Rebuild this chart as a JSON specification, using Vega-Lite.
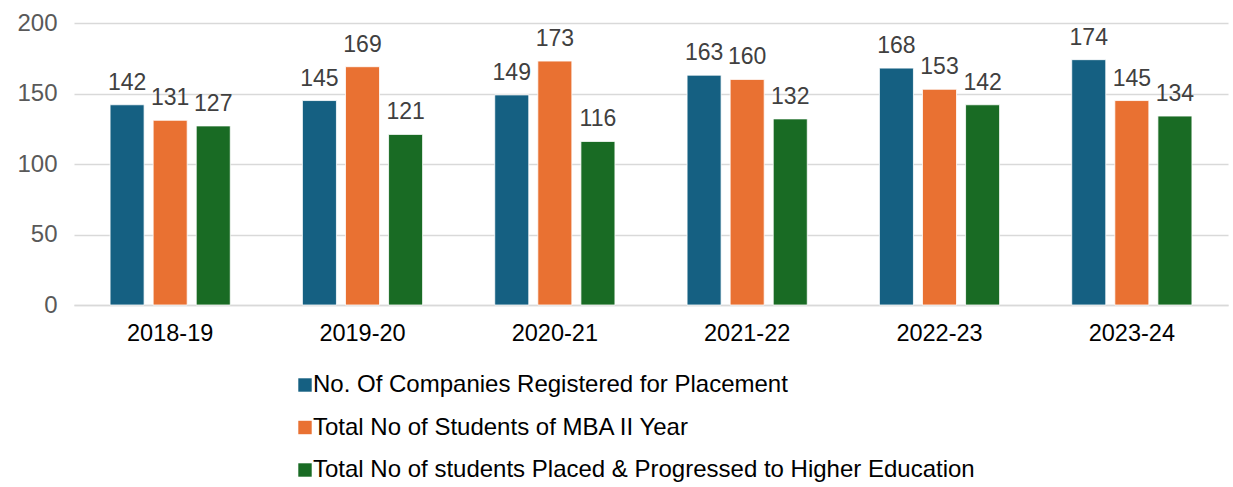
{
  "$schema": "https://vega.github.io/schema/vega-lite/v6.json",
  "width": 1154,
  "height": 282,
  "autosize": {"type": "none"},
  "padding": {"left": 74, "top": 23, "right": 5, "bottom": 182},
  "background": "white",
  "config": {
    "font": "Liberation Sans",
    "view": {"stroke": null}
  },
  "data": {
    "values": [
      {"year": "2018-19", "series": "No. Of Companies Registered for Placement", "value": 142},
      {"year": "2018-19", "series": "Total No of Students of MBA II Year", "value": 131},
      {"year": "2018-19", "series": "Total No of students Placed & Progressed to Higher Education", "value": 127},
      {"year": "2019-20", "series": "No. Of Companies Registered for Placement", "value": 145},
      {"year": "2019-20", "series": "Total No of Students of MBA II Year", "value": 169},
      {"year": "2019-20", "series": "Total No of students Placed & Progressed to Higher Education", "value": 121},
      {"year": "2020-21", "series": "No. Of Companies Registered for Placement", "value": 149},
      {"year": "2020-21", "series": "Total No of Students of MBA II Year", "value": 173},
      {"year": "2020-21", "series": "Total No of students Placed & Progressed to Higher Education", "value": 116},
      {"year": "2021-22", "series": "No. Of Companies Registered for Placement", "value": 163},
      {"year": "2021-22", "series": "Total No of Students of MBA II Year", "value": 160},
      {"year": "2021-22", "series": "Total No of students Placed & Progressed to Higher Education", "value": 132},
      {"year": "2022-23", "series": "No. Of Companies Registered for Placement", "value": 168},
      {"year": "2022-23", "series": "Total No of Students of MBA II Year", "value": 153},
      {"year": "2022-23", "series": "Total No of students Placed & Progressed to Higher Education", "value": 142},
      {"year": "2023-24", "series": "No. Of Companies Registered for Placement", "value": 174},
      {"year": "2023-24", "series": "Total No of Students of MBA II Year", "value": 145},
      {"year": "2023-24", "series": "Total No of students Placed & Progressed to Higher Education", "value": 134}
    ]
  },
  "encoding": {
    "x": {
      "field": "year", "type": "nominal",
      "scale": {"paddingInner": 0.375, "paddingOuter": 0.1875},
      "axis": {
        "title": null, "labelAngle": 0, "labelFontSize": 23.5, "labelColor": "#000000",
        "ticks": false, "domainColor": "#d9d9d9", "domainWidth": 1.5, "labelPadding": 16, "grid": false
      }
    },
    "xOffset": {
      "field": "series", "type": "nominal",
      "sort": ["No. Of Companies Registered for Placement", "Total No of Students of MBA II Year", "Total No of students Placed & Progressed to Higher Education"],
      "scale": {"paddingInner": 0.21, "paddingOuter": 0}
    },
    "y": {
      "field": "value", "type": "quantitative",
      "scale": {"domain": [0, 200]},
      "axis": {
        "title": null, "values": [0, 50, 100, 150, 200], "labelOverlap": false,
        "labelFontSize": 24, "labelColor": "#595959", "ticks": false, "domain": false,
        "gridColor": "#d9d9d9", "gridWidth": 1.5, "labelPadding": 17
      }
    }
  },
  "layer": [
    {
      "mark": {"type": "bar", "stroke": "white", "strokeWidth": 0.8},
      "encoding": {
        "color": {
          "field": "series", "type": "nominal",
          "sort": ["No. Of Companies Registered for Placement", "Total No of Students of MBA II Year", "Total No of students Placed & Progressed to Higher Education"],
          "scale": {
            "domain": ["No. Of Companies Registered for Placement", "Total No of Students of MBA II Year", "Total No of students Placed & Progressed to Higher Education"],
            "range": ["#156082", "#e97132", "#196b24"]
          },
          "legend": {
            "title": null, "orient": "none", "legendX": 219, "legendY": 350,
            "direction": "vertical", "symbolType": "square", "symbolSize": 180,
            "symbolStrokeWidth": 0, "labelFontSize": 24, "labelColor": "#000000",
            "rowPadding": 18.5, "labelOffset": -4, "labelLimit": 900
          }
        }
      }
    },
    {
      "mark": {"type": "text", "baseline": "bottom", "dy": -10, "fontSize": 23, "color": "#404040"},
      "encoding": {
        "text": {"field": "value", "type": "quantitative"}
      }
    }
  ]
}
